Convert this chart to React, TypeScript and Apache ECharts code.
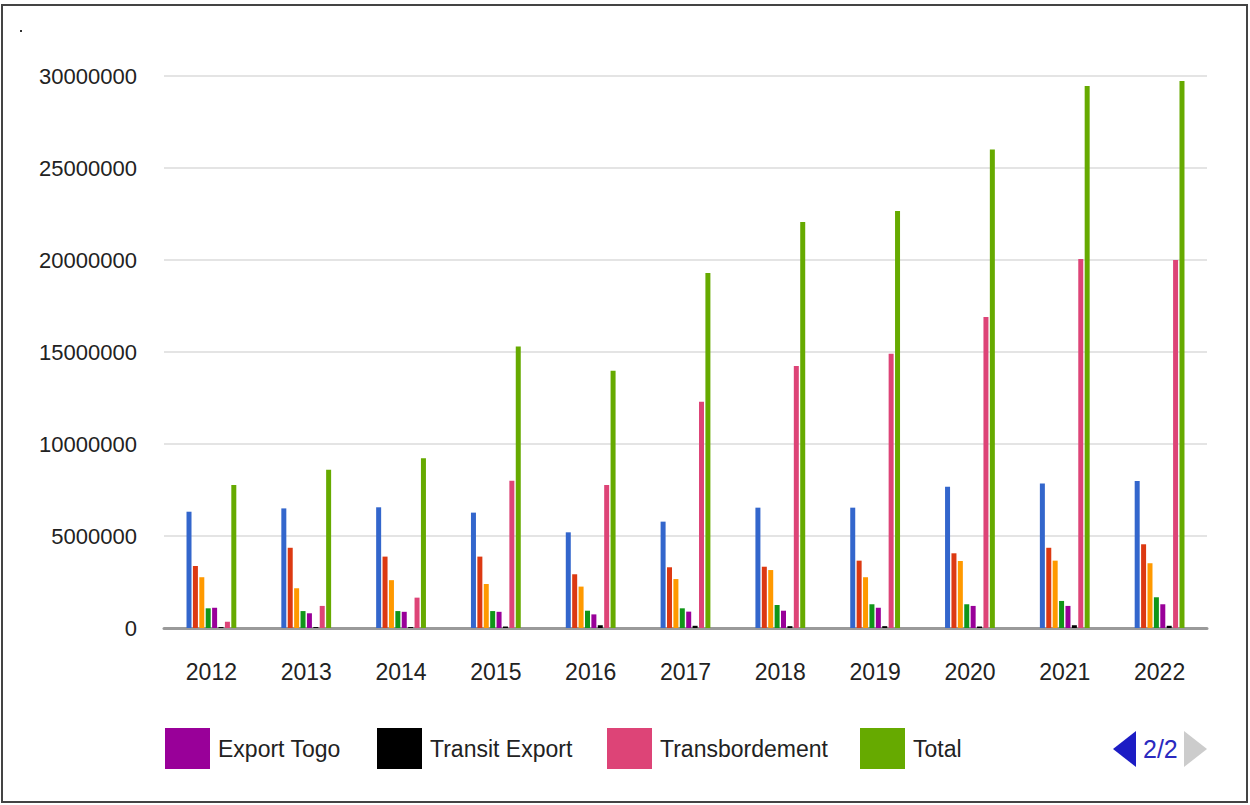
import React, { useEffect, useRef } from "react";
import * as echarts from "echarts";

// Port traffic by year (tonnes)
const years = ["2012", "2013", "2014", "2015", "2016", "2017", "2018", "2019", "2020", "2021", "2022"];

const totalImport = [6320000, 6500000, 6560000, 6270000, 5200000, 5780000, 6540000, 6540000, 7680000, 7860000, 7990000];
const importTogo = [3370000, 4360000, 3880000, 3880000, 2920000, 3300000, 3330000, 3660000, 4060000, 4360000, 4550000];
const transitImport = [2760000, 2160000, 2600000, 2390000, 2250000, 2660000, 3150000, 2760000, 3640000, 3660000, 3520000];
const totalExport = [1070000, 920000, 920000, 920000, 940000, 1070000, 1250000, 1290000, 1290000, 1470000, 1670000];
const exportTogo = [1100000, 800000, 880000, 880000, 740000, 890000, 940000, 1100000, 1200000, 1200000, 1290000];
const transitExport = [50000, 50000, 50000, 80000, 150000, 120000, 100000, 100000, 80000, 150000, 120000];
const transbordement = [340000, 1200000, 1650000, 8000000, 7770000, 12300000, 14240000, 14900000, 16900000, 20050000, 20000000];
const total = [7770000, 8600000, 9220000, 15300000, 13980000, 19300000, 22070000, 22660000, 26000000, 29460000, 29730000];

const seriesNames = [
  "Total Import",
  "Import Togo",
  "Transit Import",
  "Total Export",
  "Export Togo",
  "Transit Export",
  "Transbordement",
  "Total",
];
const seriesData = [totalImport, importTogo, transitImport, totalExport, exportTogo, transitExport, transbordement, total];
const seriesColors = ["#3366cc", "#dc3912", "#ff9900", "#109618", "#990099", "#000000", "#dd4477", "#66aa00"];

const yMin = 0;
const yMax = 30000000;
const yStep = 5000000;

// Second legend page
const legendNames = ["Export Togo", "Transit Export", "Transbordement", "Total"];
const legendLeft = [165, 377, 607, 860];
const pageLabel = "2/2";

const FONT = "'Liberation Sans', Arial, sans-serif";

export default function App() {
  const ref = useRef<HTMLDivElement>(null);

  useEffect(() => {
    if (!ref.current) return;
    const chart = echarts.init(ref.current, undefined, { renderer: "svg" });

    chart.setOption({
      animation: false,
      backgroundColor: "#ffffff",
      textStyle: { fontFamily: FONT },
      grid: { left: 164, right: 43, top: 76, bottom: 177, containLabel: false },
      xAxis: {
        type: "category",
        data: years,
        axisLine: { show: true, lineStyle: { color: "#9a9a9a", width: 3 } },
        axisTick: { show: false },
        axisLabel: { color: "#222", fontSize: 23, fontFamily: FONT, margin: 32 },
      },
      yAxis: {
        type: "value",
        min: yMin,
        max: yMax,
        interval: yStep,
        axisLine: { show: false },
        axisTick: { show: false },
        axisLabel: {
          color: "#222",
          fontSize: 22,
          fontFamily: FONT,
          margin: 27,
          formatter: (v: number) => String(v),
        },
        splitLine: { lineStyle: { color: "#e4e4e4", width: 2 } },
      },
      legend: legendNames.map((name, i) => ({
        data: [name],
        left: legendLeft[i],
        top: 728,
        padding: 0,
        itemWidth: 45,
        itemHeight: 41,
        icon: "rect",
        selectedMode: false,
        itemGap: 0,
        textStyle: { fontSize: 23, color: "#222", fontFamily: FONT, padding: [0, 0, 0, 3] },
      })),
      series: seriesNames.map((name, i) => ({
        name,
        type: "bar",
        data: seriesData[i],
        barWidth: 5,
        barGap: "28%",
        itemStyle: { color: seriesColors[i] },
      })),
      graphic: [
        {
          type: "rect",
          shape: { x: 2, y: 5, width: 1245, height: 797 },
          style: { fill: "none", stroke: "#444", lineWidth: 2 },
          silent: true,
        },
        {
          type: "rect",
          shape: { x: 20, y: 30, width: 2, height: 2 },
          style: { fill: "#333" },
          silent: true,
        },
        {
          type: "polygon",
          shape: { points: [[1136, 731], [1113, 749], [1136, 767]] },
          style: { fill: "#1c1cc4" },
        },
        {
          type: "text",
          x: 1143,
          y: 749,
          style: {
            text: pageLabel,
            fontSize: 25,
            fontFamily: FONT,
            fill: "#2a2abf",
            verticalAlign: "middle",
            align: "left",
          },
        },
        {
          type: "polygon",
          shape: { points: [[1184, 731], [1207, 749], [1184, 767]] },
          style: { fill: "#cccccc" },
        },
      ],
    });

    return () => chart.dispose();
  }, []);

  return (
    <div
      ref={ref}
      style={{ position: "absolute", left: 0, top: 0, width: 1250, height: 805 }}
    />
  );
}
